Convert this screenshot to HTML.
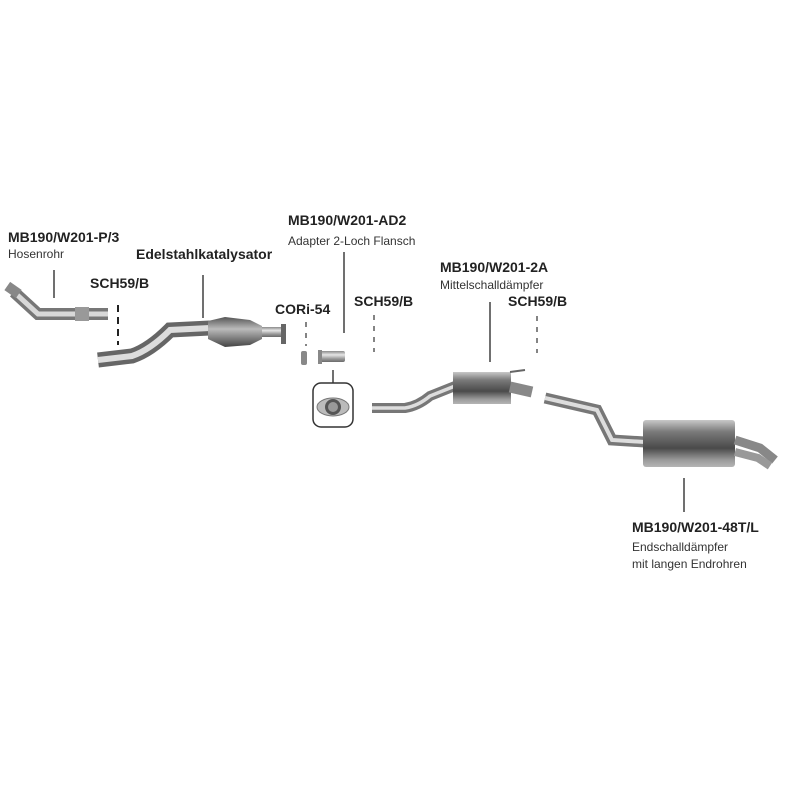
<!DOCTYPE html>
<html><head><meta charset="utf-8"><style>
html,body{margin:0;padding:0;background:#fff;width:800px;height:800px;overflow:hidden}
svg text{font-family:"Liberation Sans",sans-serif}
.b{font-weight:bold;font-size:14px;fill:#222}
.s{font-size:12px;fill:#333}
</style></head><body>
<svg width="800" height="800" viewBox="0 0 800 800" xmlns="http://www.w3.org/2000/svg">
<defs>
<linearGradient id="p" x1="0" y1="0" x2="0" y2="1">
<stop offset="0" stop-color="#8a8a8a"/><stop offset="0.35" stop-color="#e6e6e6"/><stop offset="0.7" stop-color="#9a9a9a"/><stop offset="1" stop-color="#6a6a6a"/></linearGradient>
<linearGradient id="m" x1="0" y1="0" x2="0" y2="1">
<stop offset="0" stop-color="#c8c8c8"/><stop offset="0.25" stop-color="#7a7a7a"/><stop offset="0.6" stop-color="#4a4a4a"/><stop offset="0.85" stop-color="#9a9a9a"/><stop offset="1" stop-color="#b5b5b5"/></linearGradient>
<linearGradient id="c" x1="0" y1="0" x2="0" y2="1">
<stop offset="0" stop-color="#555"/><stop offset="0.4" stop-color="#bbb"/><stop offset="1" stop-color="#444"/></linearGradient>
</defs>

<text class="b" x="8" y="242">MB190/W201-P/3</text>
<text class="s" x="8" y="258">Hosenrohr</text>
<text class="b" x="136" y="259">Edelstahlkatalysator</text>
<text class="b" x="90" y="288">SCH59/B</text>
<text class="b" x="288" y="225">MB190/W201-AD2</text>
<text class="s" x="288" y="245">Adapter 2-Loch Flansch</text>
<text class="b" x="275" y="314">CORi-54</text>
<text class="b" x="354" y="306">SCH59/B</text>
<text class="b" x="440" y="272">MB190/W201-2A</text>
<text class="s" x="440" y="289">Mittelschalldämpfer</text>
<text class="b" x="508" y="306">SCH59/B</text>
<text class="b" x="632" y="532">MB190/W201-48T/L</text>
<text class="s" x="632" y="551">Endschalldämpfer</text>
<text class="s" x="632" y="568">mit langen Endrohren</text>

<g stroke="#222" stroke-width="1.3" fill="none">
<line x1="54" y1="270" x2="54" y2="298"/>
<line x1="203" y1="275" x2="203" y2="318"/>
<line x1="344" y1="252" x2="344" y2="333"/>
<line x1="333" y1="370" x2="333" y2="383"/>
<line x1="490" y1="302" x2="490" y2="362"/>
<line x1="684" y1="478" x2="684" y2="512"/>
</g>
<g stroke="#222" stroke-width="2" fill="none" stroke-dasharray="7,5">
<line x1="118" y1="305" x2="118" y2="345"/>
</g>
<g stroke="#333" stroke-width="1.2" fill="none" stroke-dasharray="5,6">
<line x1="306" y1="322" x2="306" y2="346"/>
<line x1="374" y1="315" x2="374" y2="352"/>
<line x1="537" y1="316" x2="537" y2="353"/>
</g>

<g fill="none">
<path d="M14 292 L38 314 L108 314" stroke="#777" stroke-width="12"/>
<path d="M14 292 L38 314 L108 314" stroke="#d8d8d8" stroke-width="5"/>
</g>
<rect x="6" y="285" width="14" height="10" fill="#888" transform="rotate(35 13 290)"/>
<rect x="75" y="307" width="14" height="14" fill="#999"/>

<path d="M98 360 L132 356 Q150 350 170 330 L210 328" fill="none" stroke="#666" stroke-width="15"/>
<path d="M98 360 L132 356 Q150 350 170 330 L210 328" fill="none" stroke="#ddd" stroke-width="6"/>
<path d="M208 321 L225 317 L250 320 L262 326 L262 339 L250 345 L225 347 L208 339 Z" fill="url(#c)"/>
<rect x="262" y="327" width="20" height="10" fill="url(#p)"/>
<rect x="281" y="324" width="5" height="20" fill="#666"/>

<rect x="301" y="351" width="6" height="14" rx="2" fill="#888"/>
<rect x="320" y="351" width="25" height="11" rx="2" fill="url(#p)"/>
<rect x="318" y="350" width="4" height="14" fill="#888"/>
<rect x="313" y="383" width="40" height="44" rx="8" fill="#fff" stroke="#333" stroke-width="1.5"/>
<ellipse cx="333" cy="407" rx="16" ry="9" fill="#bbb" stroke="#777"/>
<circle cx="333" cy="407" r="8" fill="#555"/>
<circle cx="333" cy="407" r="5" fill="#999"/>

<path d="M372 408 L405 408 Q418 406 430 396 L455 386" fill="none" stroke="#777" stroke-width="10"/>
<path d="M372 408 L405 408 Q418 406 430 396 L455 386" fill="none" stroke="#ddd" stroke-width="3.5"/>
<rect x="453" y="372" width="58" height="32" fill="url(#m)"/>
<path d="M510 387 L532 392" stroke="#888" stroke-width="11"/>
<path d="M510 372 L525 370" stroke="#666" stroke-width="2"/>

<path d="M545 398 L597 410 L612 440 L645 442" fill="none" stroke="#777" stroke-width="11"/>
<path d="M545 398 L597 410 L612 440 L645 442" fill="none" stroke="#ddd" stroke-width="4"/>
<rect x="643" y="420" width="92" height="47" rx="3" fill="url(#m)"/>
<path d="M735 440 L760 448 L775 460" fill="none" stroke="#888" stroke-width="9"/>
<path d="M735 452 L758 458 L770 466" fill="none" stroke="#999" stroke-width="8"/>
</svg>
</body></html>
